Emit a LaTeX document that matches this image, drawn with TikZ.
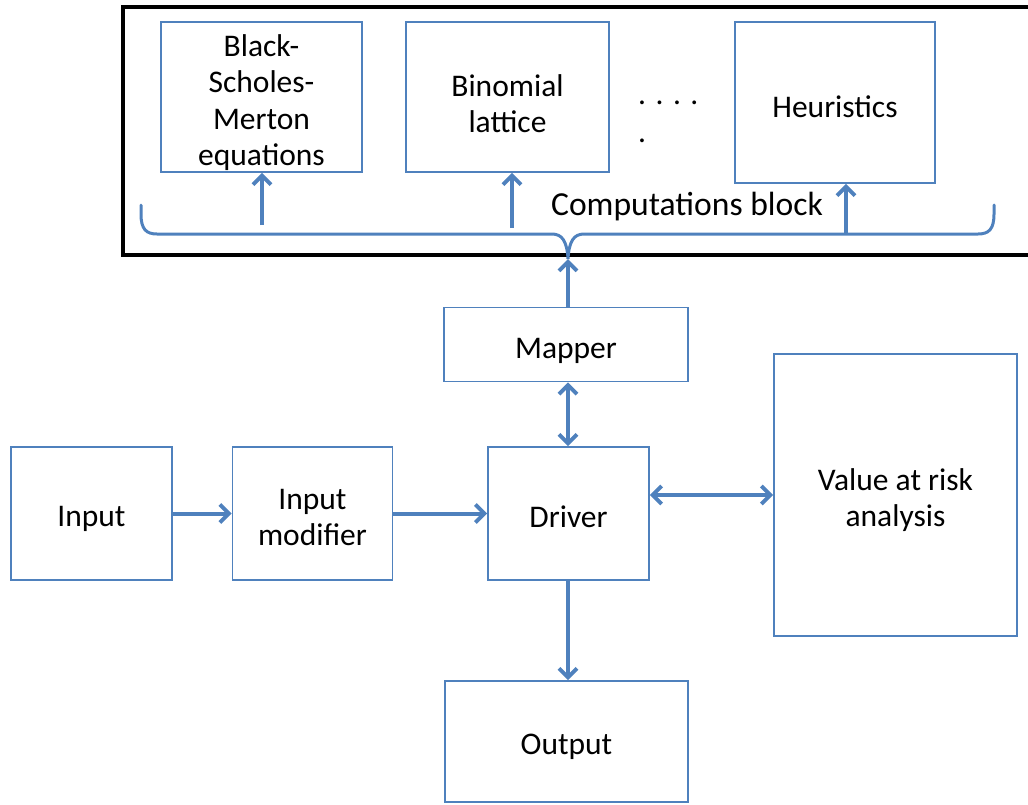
\documentclass[tikz,border=0pt]{standalone}
\usepackage{fontspec}
\setmainfont{Carlito}
\usetikzlibrary{arrows.meta}
\definecolor{officeblue}{HTML}{4F81BD}
\tikzset{
  box/.style={draw=officeblue, line width=1.6pt, rectangle, inner sep=0pt},
  arr/.style={draw=officeblue, line width=4pt, -{Straight Barb[length=9pt,width=18pt]}},
  darr/.style={draw=officeblue, line width=4pt, {Straight Barb[length=9pt,width=18pt]}-{Straight Barb[length=9pt,width=18pt]}},
  bracestyle/.style={draw=officeblue, line width=3pt},
  lbl/.style={font=\fontsize{31.5}{36.5}\selectfont, inner sep=0pt, align=center}
}
\begin{document}
\begin{tikzpicture}[x=1pt,y=-1pt]
\useasboundingbox (0,0) rectangle (1028,804);
% outer computations block
\draw[line width=4pt, black] (1030,7) -- (123,7) -- (123,255) -- (1030,255);
% boxes
\node[box, minimum width=201pt, minimum height=150pt,
  label={[lbl, yshift=-5.5pt]center:{Black-\\Scholes-\\Merton\\equations}}] (bsm) at (261.5,97) {};
\node[box, minimum width=203pt, minimum height=150pt,
  label={[lbl, yshift=-6.5pt]center:{Binomial\\lattice}}] (bin) at (507.5,97) {};
\node[box, minimum width=200pt, minimum height=161pt,
  label={[lbl, yshift=-4.5pt]center:{Heuristics}}] (heu) at (835,102.5) {};
\node[lbl, align=left, anchor=north west] (dots) at (638,101) {.\hspace{9.5pt}.\hspace{9.5pt}.\hspace{9.5pt}.\\[1pt].};
\node[lbl, font=\fontsize{33.6}{40}\selectfont] (cb) at (687,207) {Computations block};
% brace
\coordinate (tip) at (568,259);
\draw[bracestyle, line cap=round] (141,205) -- (141,214) .. controls (141,229) and (146,234) .. (157,234)
  -- (552,234) .. controls (562,234) and (567,241) .. (tip)
  .. controls (569,241) and (574,234) .. (584,234)
  -- (978,234) .. controls (989,234) and (994,229) .. (994,214) -- (994,205);
\coordinate (b1) at (262,225);
\coordinate (b2) at (512,228);
\coordinate (b3) at (846,234);
\draw[arr] (b1) -- (b1 |- bsm.south);
\draw[arr] (b2) -- (b2 |- bin.south);
\draw[arr] (b3) -- (b3 |- heu.south);
% lower boxes
\node[box, minimum width=244pt, minimum height=74pt,
  label={[lbl, yshift=-6.5pt]center:{Mapper}}] (map) at (566,344.5) {};
\node[box, minimum width=161pt, minimum height=133pt,
  label={[lbl, yshift=-3pt]center:{Driver}}] (drv) at (568.5,513.5) {};
\node[box, minimum width=161pt, minimum height=133pt,
  label={[lbl, yshift=-5pt]center:{Input}}] (inp) at (91.5,513.5) {};
\node[box, minimum width=160pt, minimum height=133pt,
  label={[lbl, yshift=-4pt]center:{Input\\modifier}}] (mod) at (312.5,513.5) {};
\node[box, minimum width=243pt, minimum height=282pt,
  label={[lbl, yshift=-5pt]center:{Value at risk\\analysis}}] (var) at (895.5,495) {};
\node[box, minimum width=243pt, minimum height=121pt,
  label={[lbl, yshift=-5.5pt]center:{Output}}] (out) at (566.5,741.5) {};
% connectors
\draw[arr] (map.north -| tip) -- (tip);
\draw[darr] (map.south -| tip) -- (drv.north -| tip);
\draw[arr] (inp.east) -- (mod.west);
\draw[arr] (mod.east) -- (drv.west);
\draw[darr] (drv.east |- var.west) -- (var.west);
\draw[arr] (drv.south -| tip) -- (out.north -| tip);
\end{tikzpicture}
\end{document}
